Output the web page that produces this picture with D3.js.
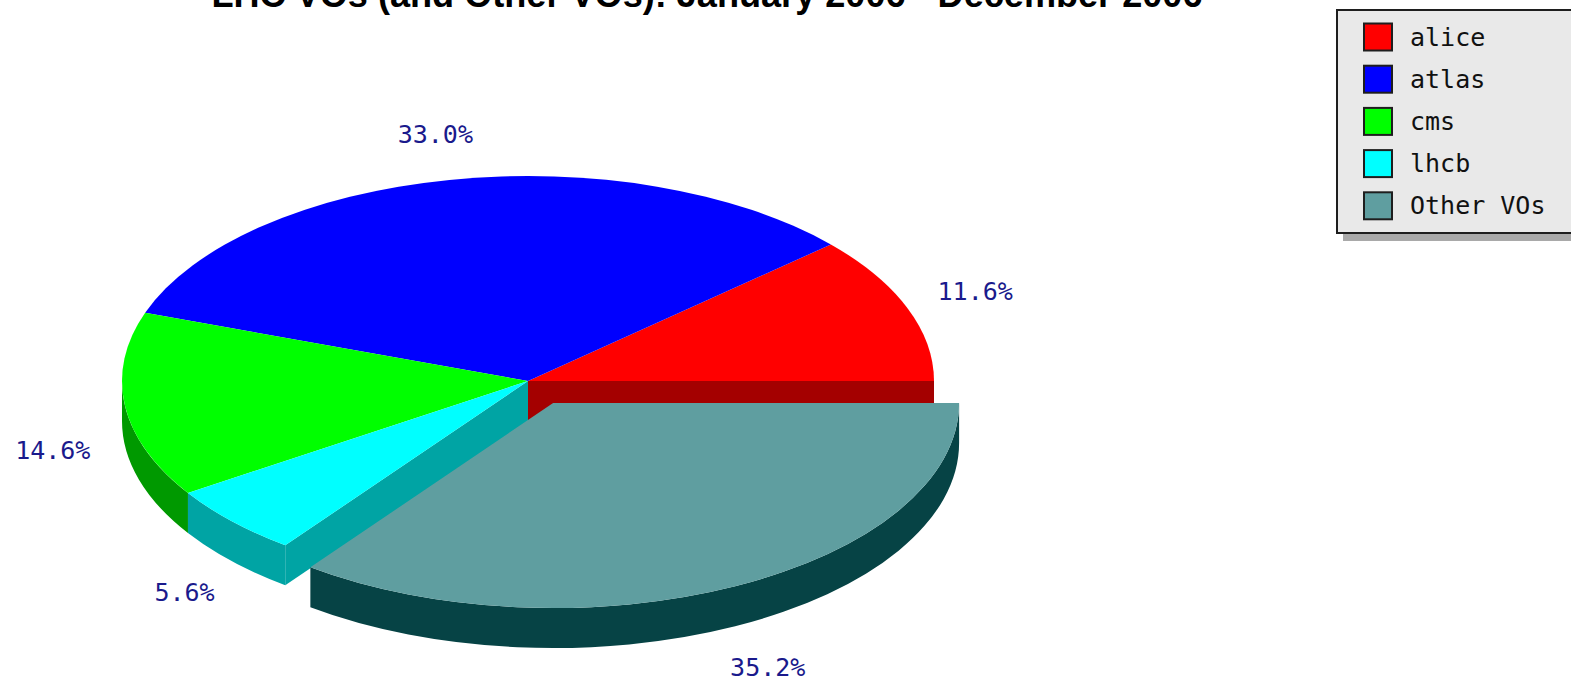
<!DOCTYPE html>
<html><head>
<meta charset="utf-8">
<script src="https://d3js.org/d3.v7.min.js"></script>
<title>LHC VOs</title>
<style>
body{margin:0;background:#fff;}
svg{display:block;}
.lbl{font-family:"DejaVu Sans Mono",monospace;font-size:25px;fill:#1a1a8c;}
.leg text{font-family:"DejaVu Sans Mono",monospace;font-size:25px;fill:#111;}
.titre{font-family:"Liberation Sans",Arial,sans-serif;font-weight:bold;font-size:36px;fill:#000;}
</style>
</head>
<body>
<script>
// donnees
const categories = ["alice", "atlas", "cms", "lhcb", "Other VOs"];
const shares = [11.6, 33.0, 14.6, 5.6, 35.2];
const exploded = ["Other VOs"];
const title = "LHC VOs (and Other VOs): January 2006 - December 2006";

// couleurs (dessus / cote)
const topColors = ["#ff0000", "#0000ff", "#00ff00", "#00ffff", "#5f9ea0"];
const sideColors = ["#a40000", "#0000a4", "#009900", "#00a4a4", "#064345"];

const W = 1571, H = 683;
const cx = 528, cy = 381, rx = 406, ry = 205, depth = 40;
const explodeR = 56, tilt = 0.44;

const colTop = d3.scaleOrdinal().domain(categories).range(topColors);
const colSide = d3.scaleOrdinal().domain(categories).range(sideColors);
const fmt = d3.format(".1f");

const svg = d3.select("body").append("svg")
    .attr("width", W).attr("height", H);

// titre (coupe en haut comme l'original)
svg.append("text").attr("class", "titre")
    .attr("x", 707).attr("y", 7)
    .attr("text-anchor", "middle")
    .attr("textLength", 991).attr("lengthAdjust", "spacingAndGlyphs")
    .text(title);

// angles: 0 = 3h, sens anti-horaire
const arcs = d3.pie().sort(null).startAngle(0).endAngle(2 * Math.PI)(shares)
    .map((a, i) => {
        const name = categories[i];
        const mid = (a.startAngle + a.endAngle) / 2;
        const ex = exploded.includes(name);
        return {
            name: name, value: a.value, a1: a.startAngle, a2: a.endAngle, mid: mid,
            ex: ex,
            ox: ex ? explodeR * Math.cos(mid) : 0,
            oy: ex ? -explodeR * Math.sin(mid) * tilt : 0
        };
    });

let pt = function(d, a, dz){
    return [cx + d.ox + rx * Math.cos(a), cy + d.oy - ry * Math.sin(a) + (dz || 0)];
};

let topPath = function(d){
    const p1 = pt(d, d.a1), p2 = pt(d, d.a2);
    const large = (d.a2 - d.a1) > Math.PI ? 1 : 0;
    return "M" + (cx + d.ox) + "," + (cy + d.oy) + "L" + p1 + "A" + rx + "," + ry + " 0 " + large + " 0 " + p2 + "Z";
};

// paroi courbe visible (moitie avant)
let wallPath = function(d){
    const b1 = Math.max(d.a1, Math.PI), b2 = Math.min(d.a2, 2 * Math.PI);
    if (b2 <= b1) return null;
    const large = (b2 - b1) > Math.PI ? 1 : 0;
    const p1 = pt(d, b1), p2 = pt(d, b2), q1 = pt(d, b1, depth), q2 = pt(d, b2, depth);
    return "M" + p1 + "A" + rx + "," + ry + " 0 " + large + " 0 " + p2 +
           "L" + q2 + "A" + rx + "," + ry + " 0 " + large + " 1 " + q1 + "Z";
};

let radialPath = function(d, a){
    const c = [cx + d.ox, cy + d.oy], c2 = [cx + d.ox, cy + d.oy + depth];
    return "M" + c + "L" + pt(d, a) + "L" + pt(d, a, depth) + "L" + c2 + "Z";
};

// parois radiales visibles: seulement a cote d'une part eclatee
let radialWalls = function(d, i){
    const out = [];
    const prev = arcs[(i + arcs.length - 1) % arcs.length];
    const next = arcs[(i + 1) % arcs.length];
    if ((d.ex || prev.ex) && Math.cos(d.a1) > 0) out.push(radialPath(d, d.a1));
    if ((d.ex || next.ex) && Math.cos(d.a2) < 0) out.push(radialPath(d, d.a2));
    return out;
};

const pie = svg.append("g");
let drawSlices = function(list){
    list.forEach(d => {
        const i = arcs.indexOf(d);
        radialWalls(d, i).forEach(p => pie.append("path").attr("d", p).attr("fill", colSide(d.name)));
        const w = wallPath(d);
        if (w) pie.append("path").attr("d", w).attr("fill", colSide(d.name));
    });
    list.forEach(d => {
        pie.append("path").attr("d", topPath(d)).attr("fill", colTop(d.name));
    });
};
drawSlices(arcs.filter(d => !d.ex));
drawSlices(arcs.filter(d => d.ex));

// etiquettes
const lblH = 22;
svg.append("g").selectAll("text")
    .data(arcs)
    .enter().append("text")
    .attr("class", "lbl")
    .attr("text-anchor", "middle")
    .attr("dominant-baseline", "central")
    .text(d => fmt(d.value) + "%")
    .each(function(d){
        const w = this.getComputedTextLength();
        const s = Math.sin(d.mid), c = Math.cos(d.mid);
        const x = cx + d.ox + (rx + 35 + w / 2) * c;
        const y = cy + d.oy - (ry + 35 + lblH / 2) * s + (s < 0 ? depth : 0);
        d3.select(this).attr("x", x).attr("y", y);
    });

// legende
const legY = d3.scalePoint().domain(categories).range([37, 37 + 4 * 42.2]);
const leg = svg.append("g").attr("class", "leg");
leg.append("rect").attr("x", 1343).attr("y", 17).attr("width", 260).attr("height", 224).attr("fill", "#a9a9a9");
leg.append("rect").attr("x", 1337).attr("y", 10).attr("width", 260).attr("height", 223)
    .attr("fill", "#e9e9e9").attr("stroke", "#1e1e1e").attr("stroke-width", 2);
const items = leg.selectAll("g.item").data(categories).enter().append("g").attr("class", "item")
    .attr("transform", d => "translate(0," + legY(d) + ")");
items.append("rect").attr("x", 1364).attr("y", -13.5).attr("width", 28).attr("height", 27)
    .attr("fill", d => colTop(d)).attr("stroke", "#1e1e1e").attr("stroke-width", 2);
items.append("text").attr("x", 1410).attr("y", 0).attr("dominant-baseline", "central").text(d => d);
</script>
</body>
</html>
